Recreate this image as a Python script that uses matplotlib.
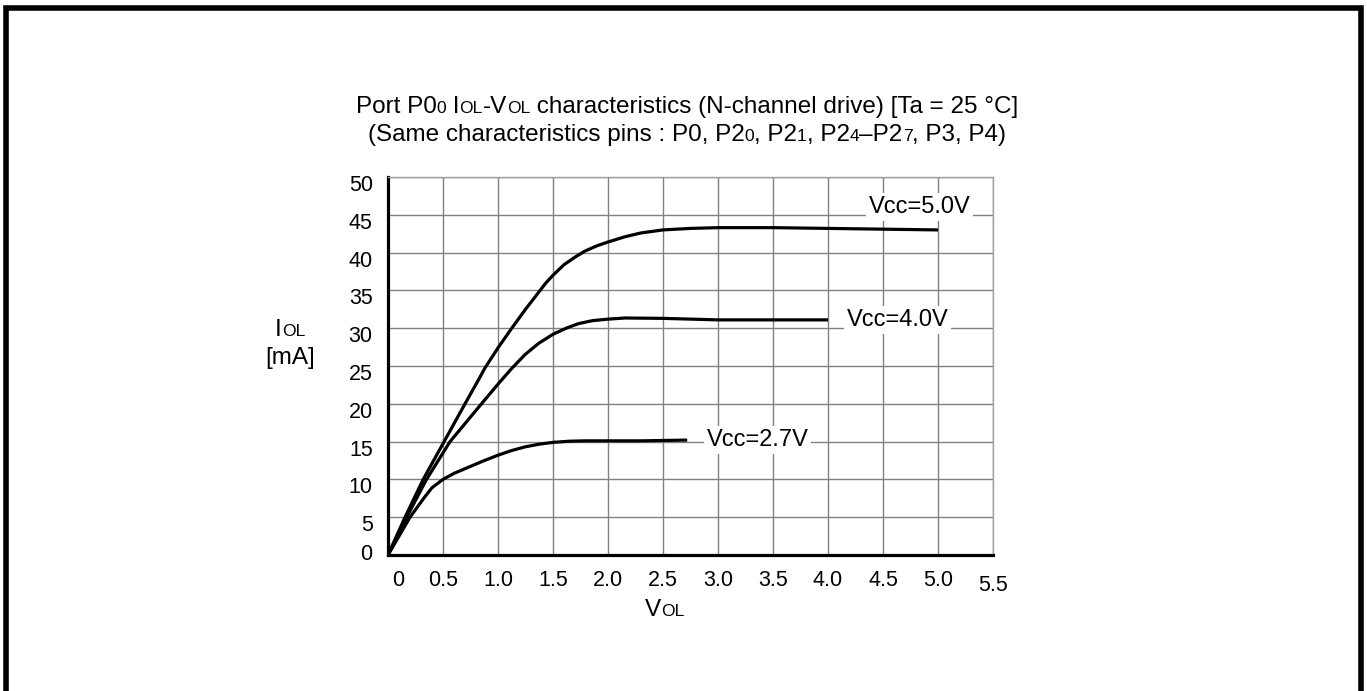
import matplotlib
matplotlib.use("Agg")
import matplotlib.pyplot as plt
from matplotlib.offsetbox import TextArea, HPacker, AnnotationBbox
from matplotlib.patches import Rectangle
from matplotlib.transforms import ScaledTranslation

plt.rcParams['font.family'] = ['Liberation Sans', 'DejaVu Sans']

# Kurvendaten
vol_5v = [0, 0.155, 0.32, 0.51, 0.70, 0.82, 0.88, 1.0, 1.125, 1.25, 1.367, 1.43, 1.5, 1.6,
          1.7, 1.79, 1.9, 2.0, 2.155, 2.3, 2.5, 2.75, 3.0, 3.5, 4.0, 4.5, 5.0]
iol_5v = [0, 5, 10, 15, 20, 23.1, 24.7, 27.4, 30.0, 32.5, 34.7, 35.9, 37.0, 38.4,
          39.4, 40.2, 40.9, 41.4, 42.1, 42.6, 43.0, 43.2, 43.3, 43.3, 43.2, 43.1, 43.0]

vol_4v = [0, 0.17, 0.35, 0.564, 0.85, 1.0, 1.12, 1.245, 1.37, 1.5, 1.62, 1.73, 1.86,
          2.0, 2.155, 2.5, 3.0, 3.5, 4.0]
iol_4v = [0, 5, 10, 15, 20, 22.6, 24.6, 26.5, 28.0, 29.2, 30.0, 30.6, 31.0,
          31.2, 31.35, 31.3, 31.1, 31.1, 31.1]

vol_27v = [0, 0.2, 0.33, 0.4, 0.5, 0.6, 0.73, 0.86, 1.0, 1.12, 1.245, 1.37, 1.5,
           1.65, 1.79, 2.0, 2.3, 2.72]
iol_27v = [0, 5, 7.6, 8.9, 10.0, 10.8, 11.6, 12.4, 13.2, 13.8, 14.3, 14.65, 14.9,
           15.05, 15.1, 15.1, 15.1, 15.2]

curve_labels = ['Vcc=5.0V', 'Vcc=4.0V', 'Vcc=2.7V']
label_pos = [(4.83, 46.0), (4.63, 31.1), (3.36, 15.2)]

x_ticks = [0, 0.5, 1.0, 1.5, 2.0, 2.5, 3.0, 3.5, 4.0, 4.5, 5.0, 5.5]
x_tick_labels = ['0', '0.5', '1.0', '1.5', '2.0', '2.5', '3.0', '3.5', '4.0', '4.5', '5.0', '5.5']
y_ticks = [0, 5, 10, 15, 20, 25, 30, 35, 40, 45, 50]

W, H = 1367, 691
fs = 15.5
fs_text = 17.5


def rich_text(fig, x, y, parts, size):
    # Text mit kleinen Indizes zusammensetzen
    boxes = [TextArea(s, textprops=dict(size=size * 0.72 if small else size, color='black'))
             for s, small in parts]
    pack = HPacker(children=boxes, align='baseline', pad=0, sep=0)
    ab = AnnotationBbox(pack, (x / W, 1 - y / H), xycoords='figure fraction',
                        frameon=False, box_alignment=(0.5, 0.5), pad=0)
    fig.add_artist(ab)


fig = plt.figure(figsize=(W / 100, H / 100), dpi=100)
ax = fig.add_axes([388 / W, 1 - 555 / H, 605 / W, 378 / H])

for vx, vy in [(vol_5v, iol_5v), (vol_4v, iol_4v), (vol_27v, iol_27v)]:
    ax.plot(vx, vy, color='black', lw=2.3, solid_capstyle='butt',
            solid_joinstyle='round', zorder=3)

for txt, (lx, ly) in zip(curve_labels, label_pos):
    ax.text(lx, ly, txt, ha='center', va='center', fontsize=17, zorder=4,
            bbox=dict(facecolor='white', edgecolor='none', pad=2))

ax.set_xlim(0, 5.5)
ax.set_ylim(0, 50)
ax.set_xticks(x_ticks)
ax.set_xticklabels(x_tick_labels, fontsize=fs)
ax.set_yticks(y_ticks)
ax.set_yticklabels([str(v) for v in y_ticks], fontsize=fs)
ax.tick_params(length=0, pad=11)
ax.grid(True, color='#808080', lw=1.0, zorder=1)
ax.set_axisbelow(True)

for s in ['top', 'right']:
    ax.spines[s].set_color('#a0a0a0')
    ax.spines[s].set_linewidth(1.0)
for s in ['left', 'bottom']:
    ax.spines[s].set_color('black')
    ax.spines[s].set_linewidth(2.3)

# Tick-Beschriftungen leicht verschieben wie im Original
xl = ax.get_xticklabels()
xl[0].set_transform(xl[0].get_transform() + ScaledTranslation(0.10, 0, fig.dpi_scale_trans))
xl[-1].set_transform(xl[-1].get_transform() + ScaledTranslation(0, -0.05, fig.dpi_scale_trans))
for i, lab in enumerate(ax.get_yticklabels()):
    dy = 0.03 if i == 0 else -0.06
    lab.set_transform(lab.get_transform() + ScaledTranslation(0, dy, fig.dpi_scale_trans))

# Titel und Achsenbeschriftungen
rich_text(fig, 687, 107, [("Port P0", 0), ("0", 1), (" I", 0), ("OL", 1), ("-V", 0), ("OL", 1),
                          (" characteristics (N-channel drive) [Ta = 25 °C]", 0)], fs_text)
rich_text(fig, 687, 135, [("(Same characteristics pins : P0, P2", 0), ("0", 1), (", P2", 0),
                          ("1", 1), (", P2", 0), ("4", 1), ("–P2", 0), ("7", 1),
                          (", P3, P4)", 0)], fs_text)
rich_text(fig, 290, 330, [("I", 0), ("OL", 1)], fs_text)
rich_text(fig, 290, 358, [("[mA]", 0)], fs_text)
rich_text(fig, 665, 610, [("V", 0), ("OL", 1)], fs_text)

# dicker Rahmen
fig.add_artist(Rectangle((5.5 / W, -0.05), (1361 - 5.5) / W, 1.05 - 8.5 / H,
                         transform=fig.transFigure, fill=False, edgecolor='black',
                         lw=4.0, clip_on=False))

fig.savefig('out.png', dpi=100)
